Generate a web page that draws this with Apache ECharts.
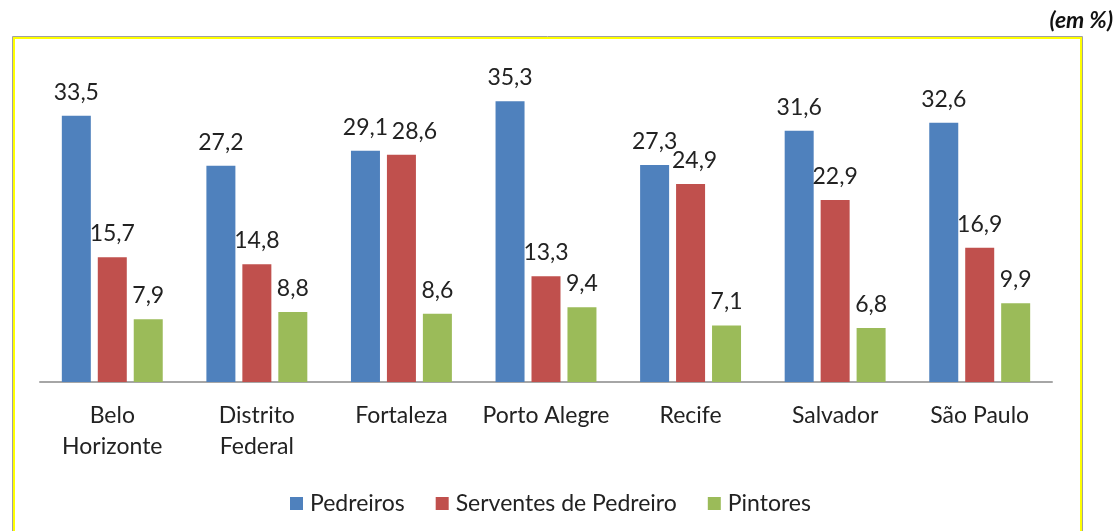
<!DOCTYPE html>
<html>
<head>
<meta charset="utf-8">
<script src="https://cdn.jsdelivr.net/npm/echarts@6/dist/echarts.min.js"></script>
<style>
  html, body { margin: 0; padding: 0; background: #fff; }
  #chart { width: 1115px; height: 531px; }
</style>
</head>
<body>
<div id="chart"></div>
<script>
  // cidades
  var categories = ['Belo\nHorizonte', 'Distrito\nFederal', 'Fortaleza', 'Porto Alegre', 'Recife', 'Salvador', 'São Paulo'];
  var seriesNames = ['Pedreiros', 'Serventes de Pedreiro', 'Pintores'];
  var pedreiros = [33.5, 27.2, 29.1, 35.3, 27.3, 31.6, 32.6];
  var serventes = [15.7, 14.8, 28.6, 13.3, 24.9, 22.9, 16.9];
  var pintores = [7.9, 8.8, 8.6, 9.4, 7.1, 6.8, 9.9];
  var colors = ['#4F81BD', '#C0504D', '#9BBB59'];

  var font = 'Lato, "Open Sans", sans-serif';
  var textColor = '#222';
  var chart = echarts.init(document.getElementById('chart'));

  // desloca rótulos que se sobrepõem (série, índice) -> offset
  var labelShift = { '1-2': [13, 0], '1-4': [4, 0] };

  function makeSeries(si, data) {
    return {
      name: seriesNames[si],
      type: 'bar',
      data: data.map(function (v, i) {
        var sh = labelShift[si + '-' + i];
        return sh ? { value: v, label: { offset: sh } } : v;
      }),
      barWidth: 29,
      barGap: '24%',
      itemStyle: { color: colors[si] },
      label: {
        show: true,
        position: 'top',
        distance: 12,
        color: textColor,
        fontFamily: font,
        fontSize: 23,
        formatter: function (p) { return p.value.toFixed(1).replace('.', ','); }
      }
    };
  }

  chart.setOption({
    animation: false,
    color: colors,
    graphic: [
      { type: 'rect', shape: { x: 12.5, y: 36.5, width: 1070, height: 520 }, style: { fill: 'none', stroke: '#A0A0A0', lineWidth: 1 } },
      { type: 'rect', shape: { x: 14, y: 38, width: 1067, height: 520 }, style: { fill: 'none', stroke: '#FFFF00', lineWidth: 2 } },
      { type: 'text', right: 2, top: 9, style: { text: '(em %)', font: 'italic bold 23px ' + font, fill: '#111' } }
    ],
    grid: { left: 40, right: 63, top: 64, bottom: 149 },
    legend: {
      data: seriesNames,
      left: 285,
      top: 487,
      itemWidth: 13,
      itemHeight: 13,
      itemGap: 31,
      icon: 'rect',
      textStyle: { color: textColor, fontFamily: font, fontSize: 23, padding: [0, 0, 0, 2] }
    },
    xAxis: {
      type: 'category',
      data: categories,
      axisLine: { lineStyle: { color: '#A6A6A6', width: 2 } },
      axisTick: { show: false },
      axisLabel: { color: textColor, fontFamily: font, fontSize: 23, lineHeight: 31, margin: 18, interval: 0 }
    },
    yAxis: {
      type: 'value',
      min: 0,
      max: 40,
      show: false
    },
    series: [
      makeSeries(0, pedreiros),
      makeSeries(1, serventes),
      makeSeries(2, pintores)
    ]
  });
</script>
</body>
</html>
